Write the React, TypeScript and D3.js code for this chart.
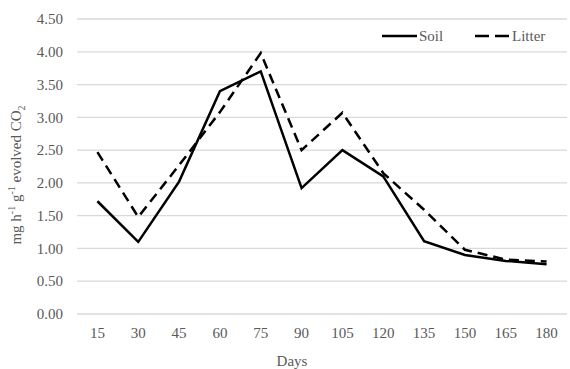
import React from "react";
import * as d3 from "d3";

const days = ["15", "30", "45", "60", "75", "90", "105", "120", "135", "150", "165", "180"];
const soil = [1.72, 1.1, 2.02, 3.4, 3.7, 1.92, 2.5, 2.1, 1.11, 0.9, 0.81, 0.76];
const litter = [2.47, 1.48, 2.27, 3.08, 3.98, 2.5, 3.07, 2.15, 1.59, 0.98, 0.83, 0.8];
const yTicks = [0, 0.5, 1, 1.5, 2, 2.5, 3, 3.5, 4, 4.5];

const W = 570, H = 369;
const left = 77, right = 567, top = 19, bottom = 314;
const font = "'Liberation Serif', 'Times New Roman', serif";
const textColor = "#595959";
const fs = 15;

export default function App() {
  const x = d3.scaleBand<string>().domain(days).range([left, right]);
  const y = d3.scaleLinear().domain([0, 4.5]).range([bottom, top]);
  const cx = (d: string) => (x(d) ?? 0) + x.bandwidth() / 2;
  const line = d3.line<number>().x((_, i) => cx(days[i])).y((v) => y(v));

  return (
    <svg width={W} height={H} style={{ position: "absolute", left: 0, top: 0, background: "#fff" }}>
      <rect width={W} height={H} fill="#fff" />
      {yTicks.map((t) => (
        <g key={t}>
          <line x1={left} x2={right} y1={y(t)} y2={y(t)} stroke="#d9d9d9" strokeWidth={1.3} />
          <text x={63} y={y(t)} dy="0.35em" textAnchor="end" fontFamily={font} fontSize={fs} fill={textColor}>
            {t.toFixed(2)}
          </text>
        </g>
      ))}
      {days.map((d) => (
        <text key={d} x={cx(d)} y={338} textAnchor="middle" fontFamily={font} fontSize={fs} fill={textColor}>
          {d}
        </text>
      ))}
      <path d={line(litter) ?? ""} fill="none" stroke="#000" strokeWidth={2.5} strokeDasharray="10,6" />
      <path d={line(soil) ?? ""} fill="none" stroke="#000" strokeWidth={2.5} />
      <line x1={382} x2={417} y1={36} y2={36} stroke="#000" strokeWidth={2.5} />
      <text x={419} y={41} fontFamily={font} fontSize={fs} fill={textColor}>Soil</text>
      <line x1={475} x2={509} y1={36} y2={36} stroke="#000" strokeWidth={2.5} strokeDasharray="14,6" />
      <text x={512} y={41} fontFamily={font} fontSize={fs} fill={textColor}>Litter</text>
      <text x={292} y={366} textAnchor="middle" fontFamily={font} fontSize={fs} fill={textColor}>Days</text>
      <text transform="translate(21,175) rotate(-90)" textAnchor="middle" fontFamily={font} fontSize={fs} fill={textColor}>
        mg h<tspan dy={-6} fontSize={10}>-1</tspan>
        <tspan dy={6}> g</tspan>
        <tspan dy={-6} fontSize={10}>-1</tspan>
        <tspan dy={6}> evolved CO</tspan>
        <tspan dy={4} fontSize={10}>2</tspan>
      </text>
    </svg>
  );
}
